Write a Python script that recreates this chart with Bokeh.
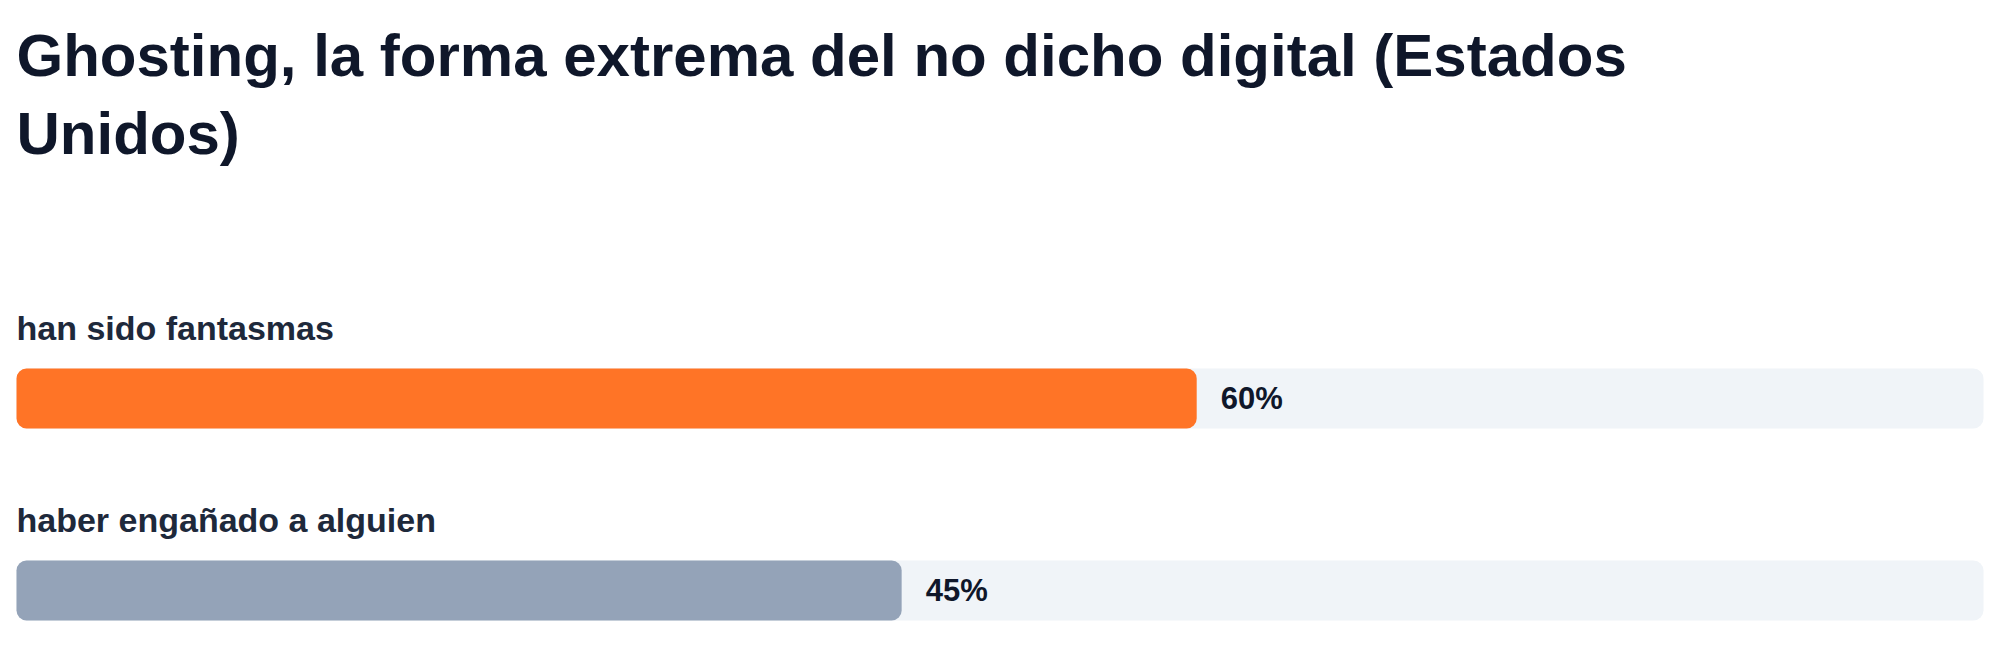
from bokeh.plotting import figure
from bokeh.models import Range1d, ColumnDataSource, Label
from bokeh.core.properties import value
from bokeh.embed import file_html
from bokeh.resources import INLINE

# ---- data ----
title_lines = ["Ghosting, la forma extrema del no dicho digital (Estados", "Unidos)"]
categories = ["han sido fantasmas", "haber engañado a alguien"]
values = [60, 45]
value_labels = ["60%", "45%"]
bar_colors = ["#FF7426", "#94A3B8"]
max_value = 100

# ---- layout (pixels) ----
W, H = 2000, 668
left_px, right_px = 16, 1983
px_per_unit = (right_px - left_px) / max_value
x0 = -left_px / px_per_unit
x1 = x0 + W / px_per_unit

row_center0 = 398
row_step = 192
bar_h = 60

centers = [row_center0 + i * row_step for i in range(len(categories))]
label_y = [c - bar_h / 2 - 41 for c in centers]

p = figure(width=W, height=H, output_backend="svg", toolbar_location=None,
           x_range=Range1d(x0, x1), y_range=Range1d(H, 0), min_border=0,
           background_fill_color="white", border_fill_color="white")
p.axis.visible = False
p.grid.visible = False
p.outline_line_color = None

src = ColumnDataSource(dict(cat=categories, val=values, lab=value_labels,
                            color=bar_colors, y=centers, ly=label_y,
                            full=[max_value] * len(values)))

# track
p.hbar(y="y", left=0, right="full", height=bar_h, source=src,
       fill_color="#F0F4F8", line_color=None, border_radius=10)
# bars
p.hbar(y="y", left=0, right="val", height=bar_h, source=src,
       fill_color="color", line_color=None, border_radius=10)

# category labels
p.text(x=0, y="ly", text="cat", source=src, text_font=value("Liberation Sans"),
       text_font_style="bold", text_font_size="34px", text_color="#1E293B",
       text_align="left", text_baseline="alphabetic")

# value labels
p.text(x="val", y="y", text="lab", source=src, x_offset=24, y_offset=0,
       text_font=value("Liberation Sans"), text_font_style="bold",
       text_font_size="31px", text_color="#0F172A",
       text_align="left", text_baseline="alphabetic")

# title
for i, t in enumerate(title_lines):
    p.add_layout(Label(x=0, y=55 + i * 78, text=t, text_font="Liberation Sans",
                       text_font_style="bold", text_font_size="60px",
                       text_color="#0F172A", text_align="left",
                       text_baseline="alphabetic"))

open("out.html", "w").write(file_html(p, INLINE))
